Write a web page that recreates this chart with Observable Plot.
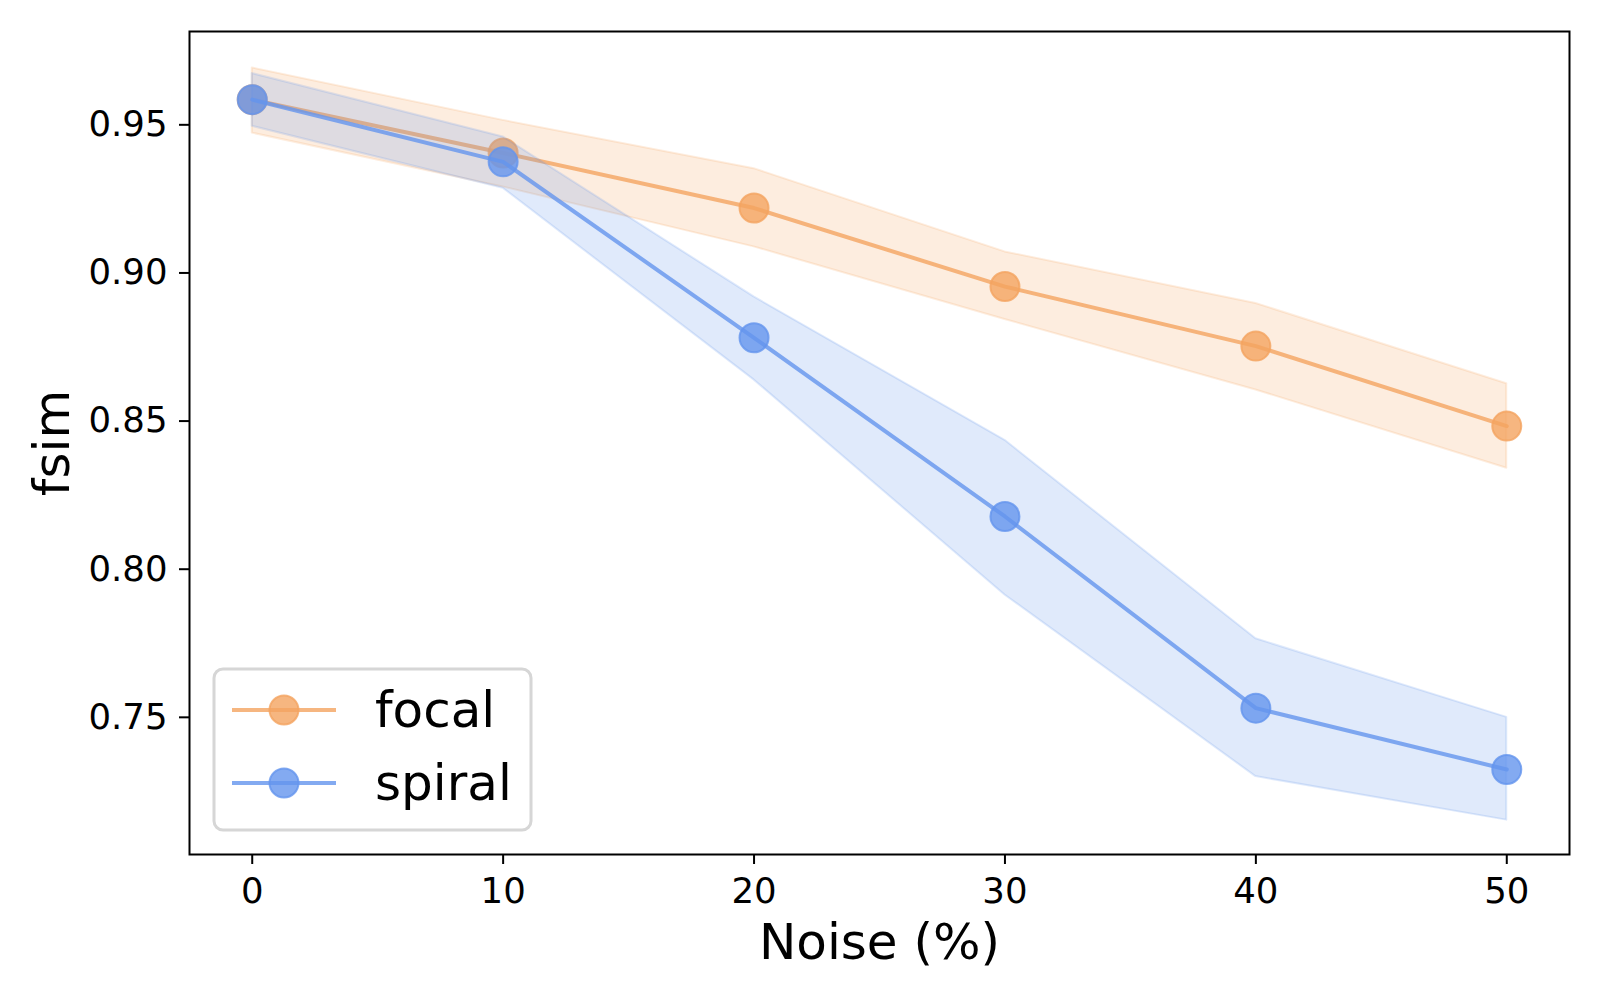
<!DOCTYPE html>
<html>
<head>
<meta charset="utf-8">
<script src="https://cdn.jsdelivr.net/npm/d3@7"></script>
<script src="https://cdn.jsdelivr.net/npm/@observablehq/plot@0.6"></script>
<style>
  html, body { margin: 0; padding: 0; background: white; }
  #chart { width: 1600px; height: 1000px; }
</style>
</head>
<body>
<div id="chart"></div>
<script>
// ---- data ----
const noise = [0, 10, 20, 30, 40, 50];
const methods = ["focal", "spiral"];
const focalMean = [0.9585, 0.9405, 0.9219, 0.8954, 0.8753, 0.8483];
const focalLow  = [0.9472, 0.9290, 0.9088, 0.8843, 0.8605, 0.8341];
const focalHigh = [0.9692, 0.9515, 0.9352, 0.9071, 0.8897, 0.8626];
const spiralMean = [0.9585, 0.9375, 0.8781, 0.8178, 0.7531, 0.7324];
const spiralLow  = [0.9495, 0.9286, 0.8639, 0.7913, 0.7300, 0.7153];
const spiralHigh = [0.9673, 0.9459, 0.8919, 0.8435, 0.7765, 0.7500];
const yTicks = [0.75, 0.80, 0.85, 0.90, 0.95];
const colors = {focal: "#F4A460", spiral: "#6495ED"};

const rows = (m, mean, lo, hi) => noise.map((x, i) => ({method: m, x, mean: mean[i], lo: lo[i], hi: hi[i]}));
const focal = rows("focal", focalMean, focalLow, focalHigh);
const spiral = rows("spiral", spiralMean, spiralLow, spiralHigh);

const font = "DejaVu Sans";
const seriesMarks = (data, c) => [
  Plot.areaY(data, {x: "x", y1: "lo", y2: "hi", fill: c, fillOpacity: 0.2, stroke: c, strokeOpacity: 0.2, strokeWidth: 2}),
  Plot.lineY(data, {x: "x", y: "mean", stroke: c, strokeOpacity: 0.8, strokeWidth: 4}),
  Plot.dot(data, {x: "x", y: "mean", r: 14.5, fill: c, fillOpacity: 0.8, stroke: c, strokeOpacity: 0.8, strokeWidth: 2})
];

const plot = Plot.plot({
  width: 1600,
  height: 1000,
  marginLeft: 189,
  marginRight: 31,
  marginTop: 31,
  marginBottom: 146,
  style: {fontFamily: font, color: "black", background: "white", overflow: "visible"},
  x: {domain: [-2.5, 52.5]},
  y: {domain: [0.7037, 0.9815]},
  marks: [
    ...seriesMarks(focal, colors.focal),
    ...seriesMarks(spiral, colors.spiral),
    Plot.frame({stroke: "black", strokeWidth: 2}),
    Plot.axisX({ticks: noise, tickSize: 10, tickPadding: 13, fontSize: 35.5, label: null, tickFormat: d3.format("d"), strokeWidth: 2}),
    Plot.axisY({ticks: yTicks, tickSize: 10, tickPadding: 12, fontSize: 35.5, label: null, tickFormat: d3.format(".2f"), strokeWidth: 2}),
    Plot.text(["Noise (%)"], {text: d => d, frameAnchor: "bottom", textAnchor: "middle", lineAnchor: "bottom", dy: 104, fontSize: 50, fill: "black"}),
    Plot.text(["fsim"], {text: d => d, frameAnchor: "left", textAnchor: "middle", lineAnchor: "bottom", rotate: -90, dx: -121, fontSize: 50, fill: "black"})
  ]
});

document.getElementById("chart").appendChild(plot);

// ---- legend (inside plot, lower left) ----
const svg = d3.select(plot);
const lg = svg.append("g").attr("font-family", font).attr("text-anchor", "start");
lg.append("rect")
  .attr("x", 214).attr("y", 669).attr("width", 317).attr("height", 161)
  .attr("rx", 9).attr("fill", "white").attr("fill-opacity", 0.8)
  .attr("stroke", "#d6d6d6").attr("stroke-width", 3);
methods.forEach((m, i) => {
  const cy = 710 + i * 73;
  lg.append("line").attr("x1", 232).attr("x2", 336).attr("y1", cy).attr("y2", cy)
    .attr("stroke", colors[m]).attr("stroke-opacity", 0.8).attr("stroke-width", 4);
  lg.append("circle").attr("cx", 284).attr("cy", cy).attr("r", 14.5)
    .attr("fill", colors[m]).attr("fill-opacity", 0.8)
    .attr("stroke", colors[m]).attr("stroke-opacity", 0.8).attr("stroke-width", 2);
  lg.append("text").attr("x", 375).attr("y", cy + 17).attr("font-size", 50)
    .attr("text-anchor", "start").attr("fill", "black").text(m);
});
</script>
</body>
</html>
